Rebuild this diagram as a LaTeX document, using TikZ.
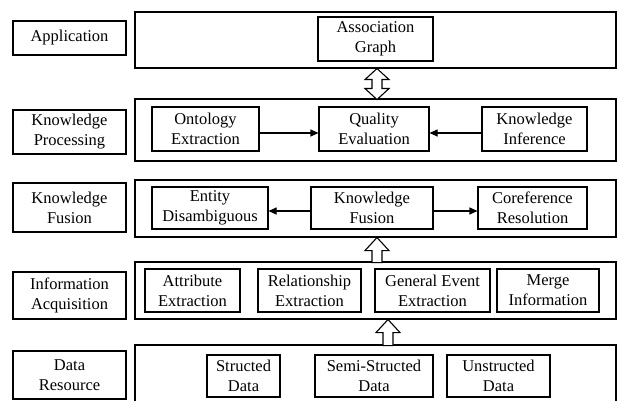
\documentclass[tikz,border=0pt]{standalone}
\usepackage{fontspec}
\setmainfont{Liberation Serif}
\usetikzlibrary{arrows.meta}

\begin{document}
\begin{tikzpicture}[x=1pt, y=-1pt,
    every node/.style={font=\fontsize{16.5}{20}\selectfont, align=center, inner sep=0pt},
    stage/.style 2 args={draw, line width=1.1pt, minimum width=113pt, minimum height=#2pt},
    band/.style={draw, line width=1.1pt, minimum width=481pt, minimum height=#1pt},
    cell/.style 2 args={draw, line width=1.1pt, minimum width=#1pt, minimum height=#2pt},
    link/.style={-{Triangle[length=8pt, width=7pt]}, line width=1.1pt},
    hollow/.style={draw, line width=1.1pt, fill=white, line join=miter}]
    \useasboundingbox (0, 0) rectangle (618, 401);

    % Layer names
    \node[stage={}{34}] (app) at (69.5, 38) {Application};
    \node[stage={}{44}] (proc) at (69.5, 132) {Knowledge\\Processing};
    \node[stage={}{49}] (fus) at (69.5, 207.5) {Knowledge\\Fusion};
    \node[stage={}{47}] (acq) at (69.5, 295.5) {Information\\Acquisition};
    \node[stage={}{48}] (res) at (69.5, 375) {Data\\Resource};

    % Layer bands
    \node[band=56] (appband) at (375.5, 40) {};
    \node[band=62] (procband) at (375.5, 130) {};
    \node[band=57] (fusband) at (375.5, 208.5) {};
    \node[band=57] (acqband) at (375.5, 290.5) {};
    \node[band=59] (resband) at (375.5, 374.5) {};

    % Hollow arrows between bands
    \draw[hollow] ([xshift=1.5pt]appband.south) -- ++(12, 11) -- ++(-7, 0) -- ++(0, 9) -- ++(7, 0)
        -- ++(-12, 11) -- ++(-12, -11) -- ++(7, 0) -- ++(0, -9) -- ++(-7, 0) -- cycle;
    \draw[hollow] ([xshift=1.5pt]fusband.south) -- ++(12, 13) -- ++(-7, 0) -- ++(0, 12)
        -- ++(-10, 0) -- ++(0, -12) -- ++(-7, 0) -- cycle;
    \draw[hollow] ([xshift=12.5pt]acqband.south) -- ++(12, 13) -- ++(-7, 0) -- ++(0, 13)
        -- ++(-10, 0) -- ++(0, -13) -- ++(-7, 0) -- cycle;

    % Application
    \node[cell={115}{44}] (graph) at (375.5, 39) {Association\\Graph};

    % Knowledge processing
    \node[cell={107}{44}] (onto) at (205.5, 129) {Ontology\\Extraction};
    \node[cell={110}{44}] (qual) at (374, 129) {Quality\\Evaluation};
    \node[cell={105}{44}] (infer) at (534.5, 129) {Knowledge\\Inference};

    % Knowledge fusion
    \node[cell={116}{42}] (entity) at (210, 208) {Entity\\Disambiguous};
    \node[cell={122}{42}] (kfuse) at (372, 208) {Knowledge\\Fusion};
    \node[cell={109}{42}] (coref) at (532.5, 208) {Coreference\\Resolution};

    % Information acquisition
    \node[cell={95}{43}] (attr) at (192.5, 290.5) {Attribute\\Extraction};
    \node[cell={103}{43}] (rel) at (309.5, 290.5) {Relationship\\Extraction};
    \node[cell={115}{43}] (event) at (432.5, 290.5) {General Event\\Extraction};
    \node[cell={102}{43}] (merge) at (548, 290.5) {Merge\\Information};

    % Data resource
    \node[cell={73}{42}] (struct) at (243.5, 376) {Structed\\Data};
    \node[cell={118}{42}] (semi) at (374, 376) {Semi-Structed\\Data};
    \node[cell={103}{42}] (unstruct) at (498.5, 376) {Unstructed\\Data};

    % Links inside the bands
    \draw[link] ([yshift=-4pt]onto.east) -- ([yshift=-4pt]qual.west);
    \draw[link] ([yshift=-4pt]infer.west) -- ([yshift=-4pt]qual.east);
    \draw[link] ([yshift=-3pt]kfuse.west) -- ([yshift=-3pt]entity.east);
    \draw[link] ([yshift=-3pt]kfuse.east) -- ([yshift=-3pt]coref.west);
\end{tikzpicture}
\end{document}
